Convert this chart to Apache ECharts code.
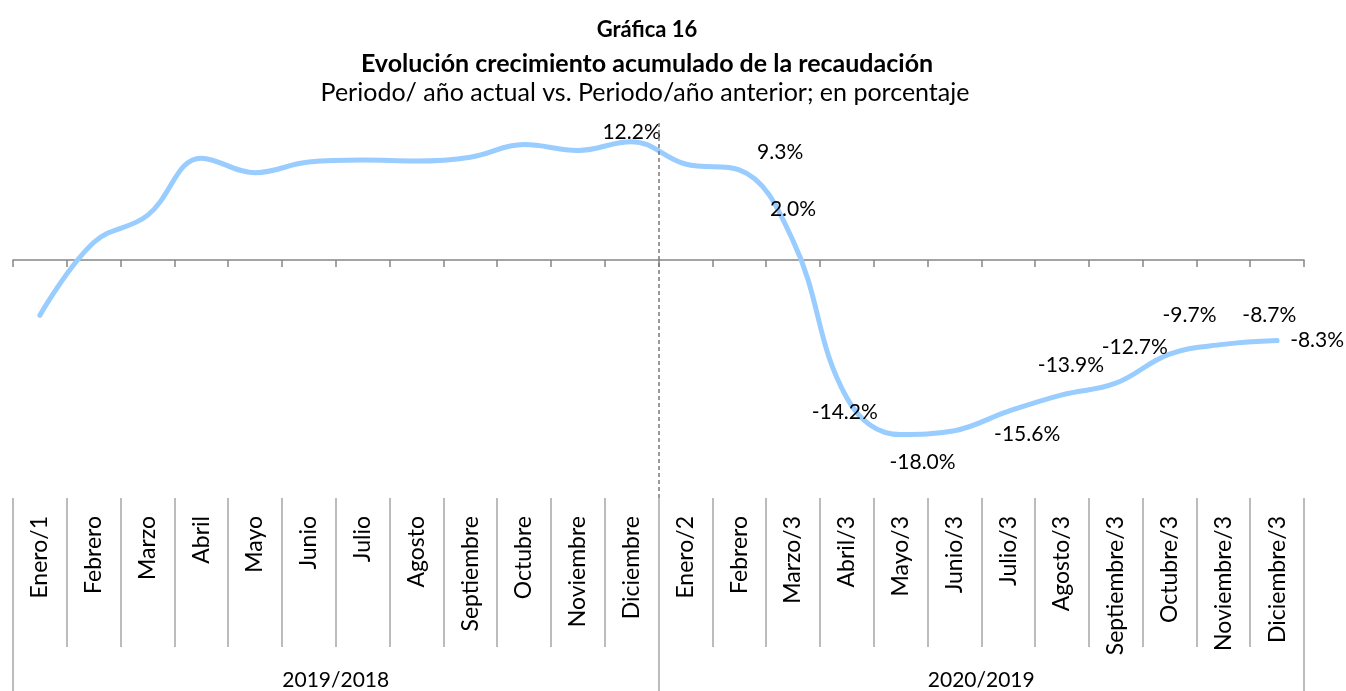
<!DOCTYPE html>
<html>
<head>
<meta charset="utf-8">
<script src="https://cdn.jsdelivr.net/npm/echarts@6/dist/echarts.min.js"></script>
<style>
  html, body { margin: 0; padding: 0; background: #fff; }
  #chart { width: 1346px; height: 691px; }
</style>
</head>
<body>
<div id="chart"></div>
<script>
// categorias (meses) y periodos
const months = [
  "Enero/1", "Febrero", "Marzo", "Abril", "Mayo", "Junio", "Julio", "Agosto",
  "Septiembre", "Octubre", "Noviembre", "Diciembre",
  "Enero/2", "Febrero", "Marzo/3", "Abril/3", "Mayo/3", "Junio/3", "Julio/3",
  "Agosto/3", "Septiembre/3", "Octubre/3", "Noviembre/3", "Diciembre/3"
];
const periods = ["2019/2018", "2020/2019"];

// crecimiento acumulado, %
const growth = [
  -5.7, 1.8, 4.6, 10.5, 9.0, 10.1, 10.3, 10.2, 10.6, 11.9, 11.3, 12.2,
  9.9, 9.3, 2.0, -14.2, -18.0, -17.6, -15.6, -13.9, -12.7, -9.7, -8.7, -8.3
];

// posicion de etiquetas (solo las que aparecen)
const labelOffsets = {
  11: [0, -9],
  13: [41, -18],
  14: [0, -31],
  15: [-2, 14],
  16: [22, 28],
  18: [19, 23],
  19: [9, -30],
  20: [19, -36],
  21: [20, -39],
  22: [46, -29],
  23: [40, 0]
};

const FONT = "Lato";
const chart = echarts.init(document.getElementById("chart"));

const seriesData = growth.map(function (v, i) {
  const off = labelOffsets[i];
  return {
    value: v,
    label: off ? { show: true, offset: off } : { show: false }
  };
});

chart.setOption({
  animation: false,
  textStyle: { fontFamily: FONT, color: "#000" },
  title: [
    {
      text: "Gráfica 16",
      left: 642, top: 14, textAlign: "center",
      textStyle: { fontFamily: FONT, fontSize: 22, fontWeight: "bold", color: "#000" }
    },
    {
      text: "Evolución crecimiento acumulado de la recaudación",
      left: 642, top: 46, textAlign: "center",
      textStyle: { fontFamily: FONT, fontSize: 25, fontWeight: "bold", color: "#000" }
    },
    {
      text: "Periodo/ año actual vs. Periodo/año anterior; en porcentaje",
      left: 640, top: 75, textAlign: "center",
      textStyle: { fontFamily: FONT, fontSize: 25, fontWeight: "normal", color: "#000" }
    }
  ],
  grid: [
    { left: 13, right: 42, top: 114.5, height: 339.5 },
    { left: 13, right: 42, top: 498, height: 149 },
    { left: 13, right: 42, top: 647, bottom: 0 },
    { left: 13, right: 42, top: 120, height: 378 }
  ],
  xAxis: [
    {
      gridIndex: 0,
      type: "category",
      data: months,
      boundaryGap: true,
      axisLine: { onZero: true, lineStyle: { color: "#868686", width: 1.5 } },
      axisTick: { show: true, interval: 0, length: 7, lineStyle: { color: "#868686", width: 1.5 } },
      axisLabel: { show: false }
    },
    {
      gridIndex: 1,
      type: "category",
      data: months,
      position: "top",
      boundaryGap: true,
      axisLine: { show: false },
      axisTick: { show: false },
      axisLabel: {
        interval: 0, inside: true, rotate: 90, margin: 18,
        fontFamily: FONT, fontSize: 23, color: "#000"
      },
      splitLine: { show: true, interval: 0, lineStyle: { color: "#a6a6a6", width: 1.5 } }
    },
    {
      gridIndex: 2,
      type: "category",
      data: periods,
      position: "top",
      boundaryGap: true,
      axisLine: { show: false },
      axisTick: { show: false },
      axisLabel: {
        interval: 0, inside: true, margin: 23,
        fontFamily: FONT, fontSize: 21, color: "#000"
      },
      splitLine: { show: true, interval: 0, lineStyle: { color: "#a6a6a6", width: 1.5 } }
    },
    {
      gridIndex: 3,
      type: "value",
      min: 0, max: months.length,
      show: false
    }
  ],
  yAxis: [
    { gridIndex: 0, type: "value", min: -20, max: 15, show: false },
    { gridIndex: 1, type: "value", show: false },
    { gridIndex: 2, type: "value", show: false },
    { gridIndex: 3, type: "value", min: 0, max: 1, show: false }
  ],
  series: [
    {
      type: "line",
      xAxisIndex: 0,
      yAxisIndex: 0,
      data: seriesData,
      smooth: 0.4,
      symbol: "circle",
      symbolSize: 0.1,
      showSymbol: true,
      lineStyle: { color: "#99ccff", width: 5, cap: "round" },
      itemStyle: { color: "#99ccff" },
      label: {
        position: "inside",
        fontFamily: FONT,
        fontSize: 21,
        color: "#000",
        formatter: function (p) { return p.value.toFixed(1) + "%"; }
      },
      z: 3
    },
    {
      type: "line",
      xAxisIndex: 3,
      yAxisIndex: 3,
      data: [[0, 0]],
      symbol: "none",
      lineStyle: { width: 0 },
      markLine: {
        silent: true,
        symbol: "none",
        label: { show: false },
        lineStyle: { type: [4, 3], color: "#7a7a7a", width: 1.5 },
        data: [{ xAxis: 12 }]
      },
      z: 1
    }
  ]
});
</script>
</body>
</html>
